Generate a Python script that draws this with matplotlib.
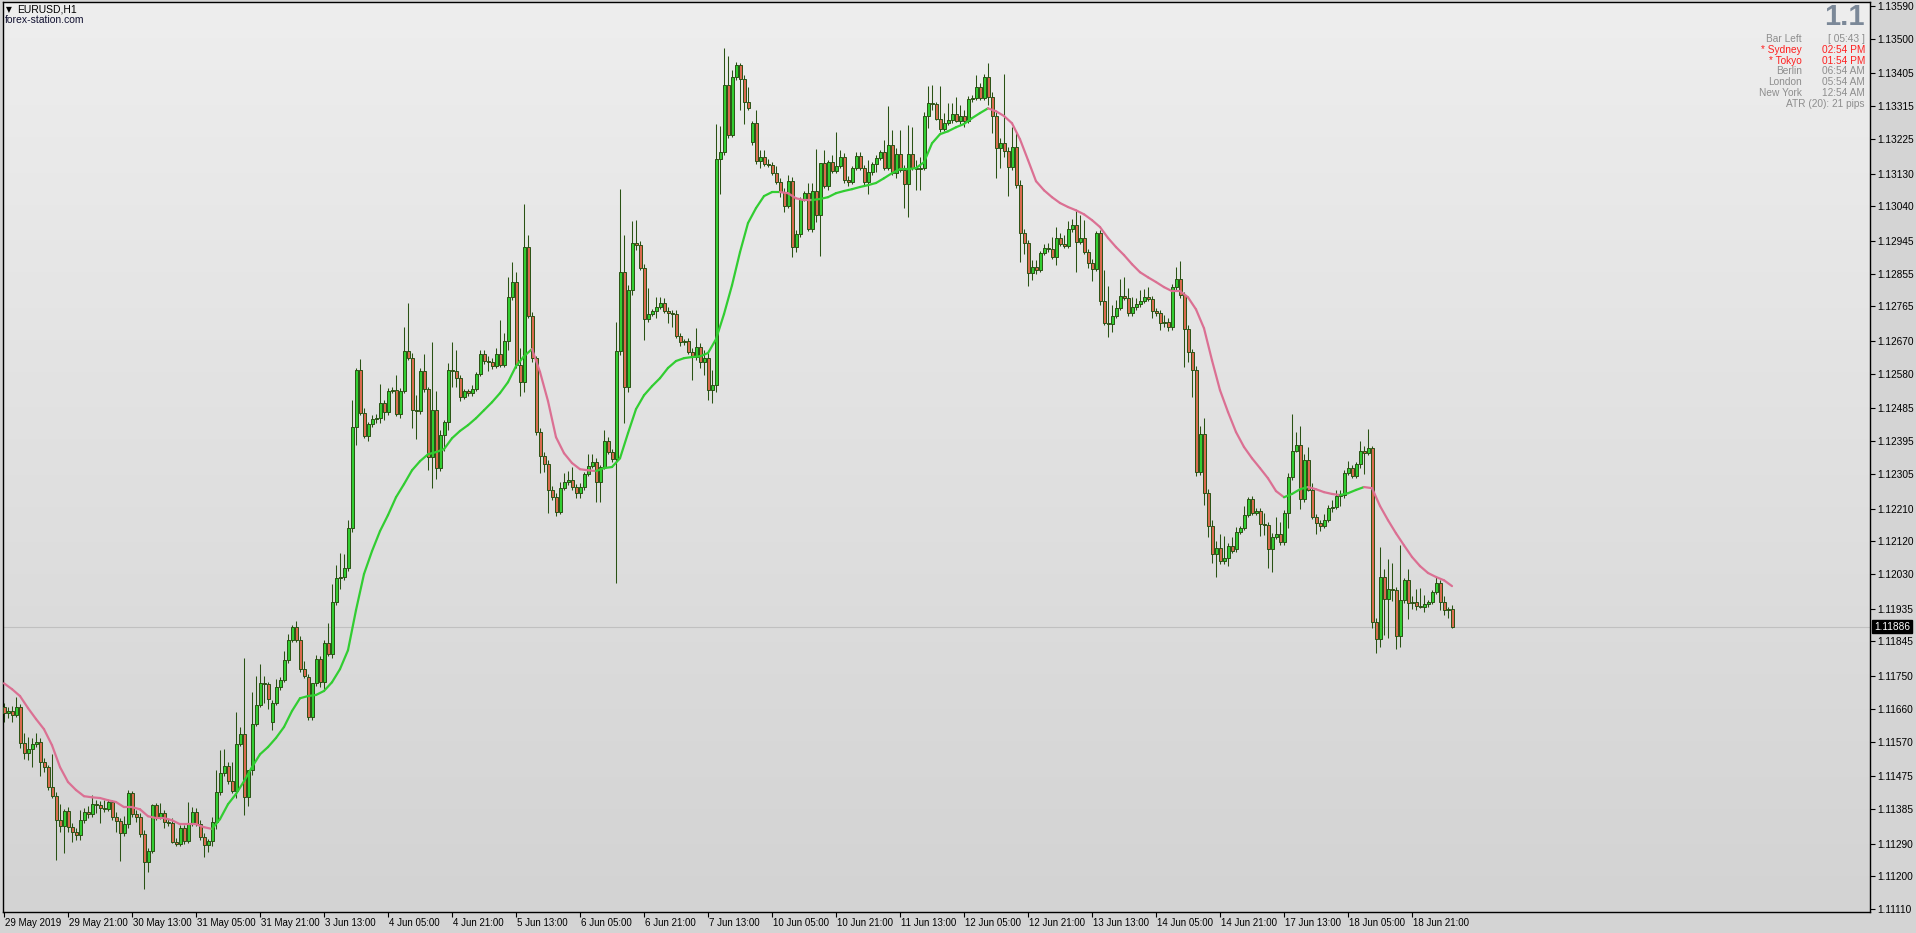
import numpy as np
import matplotlib
matplotlib.use('Agg')
import matplotlib.pyplot as plt
import matplotlib.transforms as mtransforms
from matplotlib.collections import LineCollection
from matplotlib.colors import LinearSegmentedColormap

# --- EURUSD H1 candles (29 May 2019 05:00 .. 19 Jun 2019) ---
opens = [
    1.11665, 1.11648, 1.11654, 1.11643, 1.11665, 1.11566, 1.11538, 1.11549, 1.11563, 1.11568,
    1.11513, 1.11500, 1.11445, 1.11420, 1.11354, 1.11338, 1.11379, 1.11335, 1.11321, 1.11313,
    1.11354, 1.11376, 1.11371, 1.11398, 1.11395, 1.11387, 1.11384, 1.11404, 1.11362, 1.11351,
    1.11319, 1.11343, 1.11428, 1.11371, 1.11362, 1.11316, 1.11239, 1.11269, 1.11395, 1.11360,
    1.11373, 1.11349, 1.11346, 1.11294, 1.11288, 1.11332, 1.11297, 1.11343, 1.11376, 1.11343,
    1.11308, 1.11286, 1.11297, 1.11349, 1.11431, 1.11483, 1.11503, 1.11461, 1.11434, 1.11563,
    1.11590, 1.11417, 1.11492, 1.11618, 1.11670, 1.11730, 1.11728, 1.11623, 1.11676, 1.11719,
    1.11739, 1.11794, 1.11849, 1.11884, 1.11849, 1.11769, 1.11747, 1.11637, 1.11730, 1.11796,
    1.11733, 1.11840, 1.11810, 1.11953, 1.12019, 1.12022, 1.12046, 1.12156, 1.12434, 1.12590,
    1.12472, 1.12409, 1.12442, 1.12455, 1.12458, 1.12499, 1.12475, 1.12532, 1.12535, 1.12469,
    1.12532, 1.12642, 1.12623, 1.12480, 1.12477, 1.12587, 1.12538, 1.12351, 1.12480, 1.12321,
    1.12412, 1.12447, 1.12590, 1.12587, 1.12568, 1.12516, 1.12532, 1.12527, 1.12538, 1.12579,
    1.12634, 1.12615, 1.12612, 1.12601, 1.12634, 1.12604, 1.12670, 1.12790, 1.12832, 1.12604,
    1.12557, 1.12928, 1.12738, 1.12623, 1.12420, 1.12354, 1.12332, 1.12261, 1.12241, 1.12200,
    1.12266, 1.12282, 1.12288, 1.12269, 1.12252, 1.12269, 1.12304, 1.12326, 1.12337, 1.12282,
    1.12324, 1.12395, 1.12365, 1.12346, 1.12642, 1.12859, 1.12543, 1.12810, 1.12939, 1.12933,
    1.12870, 1.12730, 1.12744, 1.12752, 1.12763, 1.12774, 1.12752, 1.12746, 1.12744, 1.12683,
    1.12667, 1.12670, 1.12639, 1.12626, 1.12653, 1.12612, 1.12623, 1.12535, 1.12549, 1.13169,
    1.13189, 1.13373, 1.13235, 1.13395, 1.13428, 1.13389, 1.13326, 1.13216, 1.13268, 1.13164,
    1.13175, 1.13156, 1.13153, 1.13131, 1.13106, 1.13079, 1.13040, 1.13109, 1.12928, 1.12963,
    1.13060, 1.13076, 1.12977, 1.13082, 1.13016, 1.13158, 1.13095, 1.13161, 1.13136, 1.13150,
    1.13175, 1.13112, 1.13106, 1.13145, 1.13178, 1.13145, 1.13106, 1.13134, 1.13156, 1.13172,
    1.13189, 1.13145, 1.13208, 1.13131, 1.13183, 1.13139, 1.13101, 1.13183, 1.13145, 1.13142,
    1.13145, 1.13288, 1.13323, 1.13320, 1.13279, 1.13252, 1.13268, 1.13277, 1.13293, 1.13274,
    1.13288, 1.13274, 1.13334, 1.13337, 1.13367, 1.13337, 1.13395, 1.13340, 1.13288, 1.13200,
    1.13213, 1.13191, 1.13147, 1.13202, 1.13098, 1.12966, 1.12939, 1.12856, 1.12873, 1.12865,
    1.12911, 1.12925, 1.12922, 1.12900, 1.12953, 1.12936, 1.12931, 1.12977, 1.12988, 1.12942,
    1.12953, 1.12914, 1.12884, 1.12867, 1.12966, 1.12780, 1.12719, 1.12716, 1.12738, 1.12760,
    1.12793, 1.12788, 1.12746, 1.12763, 1.12771, 1.12780, 1.12790, 1.12785, 1.12752, 1.12746,
    1.12719, 1.12722, 1.12708, 1.12818, 1.12840, 1.12796, 1.12703, 1.12639, 1.12590, 1.12310,
    1.12414, 1.12252, 1.12162, 1.12085, 1.12101, 1.12066, 1.12074, 1.12107, 1.12098, 1.12145,
    1.12156, 1.12192, 1.12236, 1.12197, 1.12203, 1.12167, 1.12164, 1.12098, 1.12131, 1.12140,
    1.12118, 1.12197, 1.12296, 1.12368, 1.12384, 1.12236, 1.12343, 1.12261, 1.12186, 1.12170,
    1.12162, 1.12178, 1.12211, 1.12214, 1.12244, 1.12247, 1.12307, 1.12321, 1.12299, 1.12332,
    1.12368, 1.12362, 1.12376, 1.11898, 1.11851, 1.12022, 1.11961, 1.11989, 1.11986, 1.11860,
    1.11958, 1.12013, 1.11950, 1.11953, 1.11942, 1.11939, 1.11947, 1.11953, 1.11980, 1.12005,
    1.11953, 1.11931, 1.11934]

highs = [
    1.11676, 1.11665, 1.11667, 1.11692, 1.11673, 1.11593, 1.11582, 1.11580, 1.11593, 1.11580,
    1.11524, 1.11505, 1.11535, 1.11431, 1.11398, 1.11384, 1.11390, 1.11346, 1.11332, 1.11382,
    1.11387, 1.11393, 1.11423, 1.11409, 1.11406, 1.11409, 1.11409, 1.11409, 1.11376, 1.11360,
    1.11365, 1.11437, 1.11434, 1.11382, 1.11373, 1.11327, 1.11277, 1.11398, 1.11401, 1.11401,
    1.11382, 1.11357, 1.11360, 1.11305, 1.11341, 1.11341, 1.11404, 1.11390, 1.11387, 1.11354,
    1.11319, 1.11302, 1.11362, 1.11492, 1.11547, 1.11549, 1.11513, 1.11513, 1.11651, 1.11610,
    1.11799, 1.11492, 1.11706, 1.11750, 1.11783, 1.11750, 1.11733, 1.11684, 1.11741, 1.11747,
    1.11818, 1.11865, 1.11890, 1.11901, 1.11860, 1.11791, 1.11755, 1.11730, 1.11807, 1.11805,
    1.11849, 1.11895, 1.12002, 1.12055, 1.12088, 1.12085, 1.12178, 1.12508, 1.12596, 1.12620,
    1.12486, 1.12447, 1.12466, 1.12469, 1.12552, 1.12508, 1.12541, 1.12543, 1.12576, 1.12541,
    1.12708, 1.12774, 1.12637, 1.12521, 1.12596, 1.12634, 1.12543, 1.12667, 1.12532, 1.12425,
    1.12453, 1.12609, 1.12667, 1.12645, 1.12576, 1.12538, 1.12538, 1.12549, 1.12585, 1.12645,
    1.12645, 1.12628, 1.12623, 1.12650, 1.12727, 1.12692, 1.12845, 1.12887, 1.12859, 1.12650,
    1.13046, 1.12961, 1.12749, 1.12628, 1.12431, 1.12365, 1.12343, 1.12271, 1.12252, 1.12282,
    1.12307, 1.12313, 1.12324, 1.12277, 1.12280, 1.12310, 1.12359, 1.12359, 1.12348, 1.12329,
    1.12425, 1.12406, 1.12373, 1.12722, 1.13087, 1.12961, 1.12823, 1.12999, 1.13002, 1.12944,
    1.12881, 1.12815, 1.12757, 1.12790, 1.12790, 1.12788, 1.12763, 1.12755, 1.12755, 1.12692,
    1.12675, 1.12678, 1.12650, 1.12705, 1.12664, 1.12645, 1.12639, 1.12590, 1.13266, 1.13260,
    1.13474, 1.13452, 1.13414, 1.13436, 1.13433, 1.13400, 1.13367, 1.13274, 1.13304, 1.13194,
    1.13194, 1.13169, 1.13161, 1.13150, 1.13117, 1.13090, 1.13125, 1.13120, 1.12974, 1.13065,
    1.13082, 1.13104, 1.13104, 1.13197, 1.13158, 1.13194, 1.13167, 1.13180, 1.13243, 1.13194,
    1.13186, 1.13123, 1.13150, 1.13189, 1.13189, 1.13153, 1.13167, 1.13161, 1.13180, 1.13194,
    1.13222, 1.13315, 1.13249, 1.13200, 1.13249, 1.13153, 1.13263, 1.13257, 1.13167, 1.13175,
    1.13298, 1.13370, 1.13373, 1.13326, 1.13370, 1.13296, 1.13323, 1.13323, 1.13340, 1.13318,
    1.13304, 1.13342, 1.13345, 1.13400, 1.13378, 1.13403, 1.13433, 1.13353, 1.13298, 1.13227,
    1.13403, 1.13202, 1.13257, 1.13244, 1.13112, 1.12977, 1.12947, 1.12892, 1.12892, 1.12917,
    1.12936, 1.12939, 1.12955, 1.12983, 1.12966, 1.12961, 1.12999, 1.13005, 1.13027, 1.13016,
    1.13002, 1.12922, 1.12895, 1.12972, 1.12974, 1.12865, 1.12821, 1.12769, 1.12782, 1.12840,
    1.12845, 1.12815, 1.12790, 1.12788, 1.12810, 1.12812, 1.12818, 1.12793, 1.12760, 1.12755,
    1.12741, 1.12733, 1.12826, 1.12873, 1.12889, 1.12804, 1.12714, 1.12648, 1.12601, 1.12436,
    1.12458, 1.12263, 1.12178, 1.12120, 1.12140, 1.12134, 1.12115, 1.12131, 1.12159, 1.12162,
    1.12217, 1.12241, 1.12244, 1.12211, 1.12211, 1.12197, 1.12173, 1.12142, 1.12186, 1.12173,
    1.12206, 1.12307, 1.12469, 1.12420, 1.12436, 1.12359, 1.12379, 1.12280, 1.12195, 1.12178,
    1.12195, 1.12219, 1.12233, 1.12261, 1.12261, 1.12315, 1.12340, 1.12329, 1.12337, 1.12395,
    1.12381, 1.12428, 1.12381, 1.11909, 1.12104, 1.12044, 1.12071, 1.12060, 1.11994, 1.12109,
    1.12019, 1.12044, 1.11969, 1.11989, 1.11991, 1.11972, 1.11958, 1.11986, 1.12022, 1.12013,
    1.11969, 1.11939, 1.11945]

lows = [
    1.11623, 1.11634, 1.11623, 1.11637, 1.11552, 1.11522, 1.11519, 1.11500, 1.11555, 1.11475,
    1.11486, 1.11437, 1.11415, 1.11244, 1.11321, 1.11264, 1.11321, 1.11294, 1.11299, 1.11299,
    1.11346, 1.11360, 1.11362, 1.11373, 1.11346, 1.11376, 1.11379, 1.11354, 1.11321, 1.11242,
    1.11310, 1.11332, 1.11362, 1.11349, 1.11308, 1.11165, 1.11212, 1.11264, 1.11354, 1.11357,
    1.11332, 1.11338, 1.11291, 1.11283, 1.11283, 1.11288, 1.11291, 1.11338, 1.11338, 1.11299,
    1.11253, 1.11266, 1.11283, 1.11330, 1.11423, 1.11475, 1.11453, 1.11428, 1.11415, 1.11558,
    1.11368, 1.11393, 1.11478, 1.11612, 1.11665, 1.11676, 1.11659, 1.11601, 1.11670, 1.11711,
    1.11733, 1.11785, 1.11843, 1.11843, 1.11761, 1.11744, 1.11629, 1.11629, 1.11722, 1.11719,
    1.11711, 1.11805, 1.11799, 1.11945, 1.11989, 1.12013, 1.12038, 1.12145, 1.12384, 1.12466,
    1.12403, 1.12395, 1.12434, 1.12444, 1.12444, 1.12453, 1.12466, 1.12527, 1.12464, 1.12458,
    1.12527, 1.12617, 1.12431, 1.12401, 1.12469, 1.12530, 1.12315, 1.12266, 1.12291, 1.12313,
    1.12368, 1.12425, 1.12543, 1.12543, 1.12505, 1.12510, 1.12519, 1.12519, 1.12532, 1.12574,
    1.12607, 1.12587, 1.12593, 1.12596, 1.12598, 1.12598, 1.12645, 1.12782, 1.12596, 1.12519,
    1.12530, 1.12733, 1.12612, 1.12412, 1.12307, 1.12310, 1.12197, 1.12233, 1.12189, 1.12195,
    1.12261, 1.12274, 1.12261, 1.12239, 1.12239, 1.12261, 1.12299, 1.12321, 1.12228, 1.12228,
    1.12318, 1.12359, 1.12337, 1.12005, 1.12631, 1.12444, 1.12530, 1.12796, 1.12920, 1.12865,
    1.12672, 1.12722, 1.12738, 1.12733, 1.12757, 1.12746, 1.12719, 1.12708, 1.12678, 1.12656,
    1.12659, 1.12634, 1.12563, 1.12617, 1.12596, 1.12576, 1.12508, 1.12499, 1.12530, 1.13073,
    1.13180, 1.13227, 1.13230, 1.13386, 1.13304, 1.13266, 1.13304, 1.13208, 1.13156, 1.13145,
    1.13150, 1.13147, 1.13125, 1.13101, 1.13065, 1.13024, 1.13035, 1.12900, 1.12914, 1.12955,
    1.13054, 1.12972, 1.12969, 1.12996, 1.12903, 1.13090, 1.13084, 1.13131, 1.13131, 1.13145,
    1.13104, 1.13095, 1.13101, 1.13139, 1.13139, 1.13098, 1.13073, 1.13125, 1.13134, 1.13167,
    1.13139, 1.13139, 1.13125, 1.13117, 1.13134, 1.13035, 1.13010, 1.13139, 1.13084, 1.13084,
    1.13139, 1.13255, 1.13304, 1.13277, 1.13244, 1.13246, 1.13263, 1.13268, 1.13271, 1.13266,
    1.13257, 1.13268, 1.13326, 1.13331, 1.13331, 1.13331, 1.13318, 1.13241, 1.13117, 1.13145,
    1.13175, 1.13068, 1.13139, 1.13090, 1.12887, 1.12909, 1.12821, 1.12837, 1.12854, 1.12859,
    1.12906, 1.12914, 1.12895, 1.12878, 1.12931, 1.12925, 1.12925, 1.12969, 1.12859, 1.12936,
    1.12909, 1.12870, 1.12834, 1.12862, 1.12769, 1.12714, 1.12681, 1.12694, 1.12733, 1.12755,
    1.12782, 1.12738, 1.12738, 1.12755, 1.12763, 1.12774, 1.12780, 1.12733, 1.12738, 1.12700,
    1.12708, 1.12697, 1.12700, 1.12810, 1.12788, 1.12598, 1.12612, 1.12516, 1.12299, 1.12302,
    1.12219, 1.12131, 1.12060, 1.12022, 1.12057, 1.12057, 1.12052, 1.12088, 1.12090, 1.12140,
    1.12151, 1.12186, 1.12192, 1.12192, 1.12134, 1.12137, 1.12046, 1.12035, 1.12126, 1.12109,
    1.12109, 1.12156, 1.12288, 1.12365, 1.12208, 1.12228, 1.12258, 1.12181, 1.12140, 1.12148,
    1.12156, 1.12173, 1.12200, 1.12208, 1.12217, 1.12239, 1.12302, 1.12293, 1.12293, 1.12321,
    1.12304, 1.12357, 1.11882, 1.11813, 1.11829, 1.11862, 1.11854, 1.11956, 1.11824, 1.11829,
    1.11950, 1.11906, 1.11934, 1.11931, 1.11936, 1.11925, 1.11939, 1.11947, 1.11975, 1.11931,
    1.11917, 1.11909, 1.11882]

closes = [
    1.11648, 1.11654, 1.11643, 1.11665, 1.11566, 1.11538, 1.11549, 1.11563, 1.11568, 1.11513,
    1.11500, 1.11445, 1.11420, 1.11354, 1.11338, 1.11379, 1.11335, 1.11321, 1.11313, 1.11354,
    1.11376, 1.11371, 1.11398, 1.11395, 1.11387, 1.11384, 1.11404, 1.11362, 1.11351, 1.11319,
    1.11343, 1.11428, 1.11371, 1.11362, 1.11316, 1.11239, 1.11269, 1.11395, 1.11360, 1.11373,
    1.11349, 1.11346, 1.11294, 1.11288, 1.11332, 1.11297, 1.11343, 1.11376, 1.11343, 1.11308,
    1.11286, 1.11297, 1.11349, 1.11431, 1.11483, 1.11503, 1.11461, 1.11434, 1.11563, 1.11590,
    1.11417, 1.11492, 1.11618, 1.11670, 1.11730, 1.11728, 1.11686, 1.11676, 1.11719, 1.11739,
    1.11794, 1.11849, 1.11884, 1.11849, 1.11769, 1.11750, 1.11637, 1.11730, 1.11796, 1.11733,
    1.11840, 1.11810, 1.11953, 1.12019, 1.12022, 1.12046, 1.12156, 1.12434, 1.12590, 1.12472,
    1.12409, 1.12442, 1.12455, 1.12458, 1.12499, 1.12475, 1.12532, 1.12535, 1.12469, 1.12532,
    1.12642, 1.12623, 1.12480, 1.12477, 1.12587, 1.12538, 1.12351, 1.12480, 1.12321, 1.12412,
    1.12447, 1.12590, 1.12587, 1.12568, 1.12516, 1.12532, 1.12527, 1.12538, 1.12579, 1.12634,
    1.12615, 1.12612, 1.12601, 1.12634, 1.12604, 1.12670, 1.12790, 1.12832, 1.12604, 1.12557,
    1.12928, 1.12738, 1.12623, 1.12420, 1.12354, 1.12332, 1.12261, 1.12241, 1.12200, 1.12266,
    1.12282, 1.12288, 1.12269, 1.12252, 1.12269, 1.12304, 1.12326, 1.12337, 1.12282, 1.12324,
    1.12395, 1.12365, 1.12346, 1.12642, 1.12859, 1.12543, 1.12810, 1.12939, 1.12933, 1.12870,
    1.12730, 1.12744, 1.12752, 1.12763, 1.12774, 1.12752, 1.12746, 1.12744, 1.12683, 1.12667,
    1.12670, 1.12639, 1.12626, 1.12653, 1.12612, 1.12623, 1.12535, 1.12549, 1.13169, 1.13189,
    1.13373, 1.13235, 1.13395, 1.13428, 1.13389, 1.13326, 1.13309, 1.13268, 1.13164, 1.13175,
    1.13156, 1.13153, 1.13131, 1.13106, 1.13079, 1.13040, 1.13109, 1.12928, 1.12963, 1.13060,
    1.13076, 1.12977, 1.13082, 1.13016, 1.13158, 1.13095, 1.13161, 1.13136, 1.13150, 1.13175,
    1.13112, 1.13106, 1.13145, 1.13178, 1.13145, 1.13106, 1.13134, 1.13156, 1.13172, 1.13189,
    1.13145, 1.13208, 1.13131, 1.13183, 1.13139, 1.13101, 1.13183, 1.13145, 1.13142, 1.13145,
    1.13288, 1.13323, 1.13320, 1.13279, 1.13252, 1.13268, 1.13277, 1.13293, 1.13274, 1.13288,
    1.13274, 1.13334, 1.13337, 1.13367, 1.13337, 1.13395, 1.13340, 1.13288, 1.13200, 1.13213,
    1.13191, 1.13147, 1.13202, 1.13098, 1.12966, 1.12939, 1.12856, 1.12873, 1.12865, 1.12911,
    1.12925, 1.12922, 1.12900, 1.12953, 1.12936, 1.12931, 1.12977, 1.12988, 1.12942, 1.12953,
    1.12914, 1.12884, 1.12867, 1.12966, 1.12780, 1.12719, 1.12716, 1.12738, 1.12760, 1.12793,
    1.12788, 1.12746, 1.12763, 1.12771, 1.12780, 1.12790, 1.12785, 1.12752, 1.12746, 1.12719,
    1.12722, 1.12708, 1.12818, 1.12840, 1.12796, 1.12703, 1.12639, 1.12590, 1.12310, 1.12414,
    1.12252, 1.12162, 1.12085, 1.12101, 1.12066, 1.12074, 1.12107, 1.12093, 1.12145, 1.12156,
    1.12192, 1.12236, 1.12197, 1.12203, 1.12167, 1.12164, 1.12098, 1.12131, 1.12140, 1.12118,
    1.12197, 1.12296, 1.12368, 1.12384, 1.12236, 1.12343, 1.12261, 1.12186, 1.12170, 1.12162,
    1.12178, 1.12211, 1.12214, 1.12244, 1.12247, 1.12307, 1.12321, 1.12299, 1.12332, 1.12368,
    1.12362, 1.12376, 1.11898, 1.11851, 1.12022, 1.11961, 1.11989, 1.11986, 1.11860, 1.11958,
    1.12013, 1.11950, 1.11953, 1.11942, 1.11939, 1.11947, 1.11953, 1.11980, 1.12005, 1.11953,
    1.11931, 1.11934, 1.11886]

# moving average, read every 2nd bar
ma_bars = list(range(0, 363, 2))
ma_values = [
    1.11730, 1.11714, 1.11695, 1.11662, 1.11632, 1.11604, 1.11560, 1.11500, 1.11459, 1.11437,
    1.11420, 1.11417, 1.11415, 1.11409, 1.11404, 1.11390, 1.11390, 1.11384, 1.11365, 1.11360,
    1.11360, 1.11354, 1.11343, 1.11343, 1.11343, 1.11335, 1.11330, 1.11357, 1.11398, 1.11426,
    1.11461, 1.11500, 1.11535, 1.11555, 1.11580, 1.11610, 1.11654, 1.11689, 1.11695, 1.11698,
    1.11709, 1.11733, 1.11769, 1.11821, 1.11931, 1.12030, 1.12093, 1.12148, 1.12192, 1.12241,
    1.12277, 1.12315, 1.12340, 1.12359, 1.12365, 1.12373, 1.12403, 1.12423, 1.12439, 1.12458,
    1.12480, 1.12502, 1.12527, 1.12557, 1.12601, 1.12628, 1.12648, 1.12585, 1.12505, 1.12406,
    1.12362, 1.12335, 1.12318, 1.12315, 1.12313, 1.12321, 1.12324, 1.12348, 1.12417, 1.12483,
    1.12521, 1.12546, 1.12568, 1.12596, 1.12615, 1.12623, 1.12626, 1.12628, 1.12637, 1.12675,
    1.12744, 1.12823, 1.12914, 1.12994, 1.13035, 1.13068, 1.13079, 1.13079, 1.13076, 1.13062,
    1.13057, 1.13057, 1.13060, 1.13065, 1.13076, 1.13082, 1.13087, 1.13093, 1.13098, 1.13104,
    1.13117, 1.13131, 1.13142, 1.13142, 1.13145, 1.13161, 1.13213, 1.13238, 1.13246, 1.13257,
    1.13266, 1.13282, 1.13296, 1.13309, 1.13301, 1.13288, 1.13268, 1.13224, 1.13167, 1.13109,
    1.13084, 1.13065, 1.13049, 1.13038, 1.13029, 1.13018, 1.13002, 1.12983, 1.12953, 1.12928,
    1.12906, 1.12881, 1.12859, 1.12845, 1.12832, 1.12818, 1.12807, 1.12807, 1.12790, 1.12757,
    1.12705, 1.12617, 1.12535, 1.12475, 1.12420, 1.12379, 1.12348, 1.12321, 1.12293, 1.12258,
    1.12241, 1.12250, 1.12263, 1.12269, 1.12263, 1.12255, 1.12250, 1.12247, 1.12252, 1.12261,
    1.12269, 1.12266, 1.12217, 1.12178, 1.12142, 1.12109, 1.12077, 1.12052, 1.12033, 1.12022,
    1.12013, 1.11997]

time_labels = ['29 May 2019', '29 May 21:00', '30 May 13:00', '31 May 05:00', '31 May 21:00',
               '3 Jun 13:00', '4 Jun 05:00', '4 Jun 21:00', '5 Jun 13:00', '6 Jun 05:00',
               '6 Jun 21:00', '7 Jun 13:00', '10 Jun 05:00', '10 Jun 21:00', '11 Jun 13:00',
               '12 Jun 05:00', '12 Jun 21:00', '13 Jun 13:00', '14 Jun 05:00', '14 Jun 21:00',
               '17 Jun 13:00', '18 Jun 05:00', '18 Jun 21:00']
bars_per_label = 16

price_labels = ['1.13590', '1.13500', '1.13405', '1.13315', '1.13225', '1.13130', '1.13040',
                '1.12945', '1.12855', '1.12765', '1.12670', '1.12580', '1.12485', '1.12395',
                '1.12305', '1.12210', '1.12120', '1.12030', '1.11935', '1.11845', '1.11750',
                '1.11660', '1.11570', '1.11475', '1.11385', '1.11290', '1.11200', '1.11110']
last_price = 1.11886

info_names = ['Bar Left', '* Sydney', '* Tokyo', 'Berlin', 'London', 'New York']
info_values = ['[ 05:43 ]', '02:54 PM', '01:54 PM', '06:54 AM', '05:54 AM', '12:54 AM']
info_open = [False, True, True, False, False, False]
atr_text = 'ATR (20): 21 pips'

# --- style ---
W, H = 1916, 933
bull_fill = '#32CD32'
bear_fill = '#D96A4E'
edge = '#2A5214'
ma_up = '#32CD32'
ma_down = '#DB7093'
info_gray = '#8E8E8E'

plt.rcParams['font.family'] = ['Liberation Sans', 'DejaVu Sans']

fig = plt.figure(figsize=(W / 100, H / 100), dpi=100, facecolor='#D4D4D4')
ax = fig.add_axes([3 / W, 21 / H, 1867 / W, 910 / H])

x_lo, x_hi = -0.25, -0.25 + 1867 / 4
y_lo, y_hi = 1.11102, 1.13601

# background gradient
bg = LinearSegmentedColormap.from_list('bg', ['#EEEEEE', '#D3D3D3'])
ax.imshow(np.linspace(0, 1, 256).reshape(-1, 1), cmap=bg, aspect='auto',
          extent=(x_lo, x_hi, y_lo, y_hi), origin='upper', zorder=0)

# current price line
ax.axhline(last_price, color='#C0C0C0', lw=0.8, zorder=1)

# candles
o = np.array(opens)
hi = np.array(highs)
lo = np.array(lows)
c = np.array(closes)
x = np.arange(len(o))
up = c >= o
ax.vlines(x, lo, hi, color=edge, lw=0.75, zorder=2)
ax.bar(x, np.abs(c - o), bottom=np.minimum(o, c), width=0.75,
       color=np.where(up, bull_fill, bear_fill), edgecolor=edge, linewidth=0.7, zorder=3)

# moving average, coloured by slope (flat steps keep the previous colour)
pts = np.column_stack([ma_bars, ma_values])
segs = np.stack([pts[:-1], pts[1:]], axis=1)
seg_cols = []
cur = ma_down
for a, b in zip(ma_values[:-1], ma_values[1:]):
    if b > a:
        cur = ma_up
    elif b < a:
        cur = ma_down
    seg_cols.append(cur)
ax.add_collection(LineCollection(segs, colors=seg_cols, linewidths=1.6,
                                 capstyle='round', zorder=4))

ax.set_xlim(x_lo, x_hi)
ax.set_ylim(y_lo, y_hi)

for sp in ax.spines.values():
    sp.set_color('black')
    sp.set_linewidth(1.0)

# price axis on the right
ax.yaxis.tick_right()
ax.set_yticks([float(p) for p in price_labels])
ax.set_yticklabels(price_labels)
ax.tick_params(axis='y', direction='out', length=3.5, width=0.8, pad=2,
               labelsize=7.3, colors='black')

# time axis
ax.set_xticks(np.arange(len(time_labels)) * bars_per_label)
ax.set_xticklabels([])
ax.tick_params(axis='x', direction='out', length=3.5, width=0.8)
tx = mtransforms.blended_transform_factory(ax.transData, ax.transAxes)
for k, lab in enumerate(time_labels):
    ax.text(k * bars_per_label + 0.3, -11 / 910, lab, transform=tx,
            ha='left', va='center', fontsize=7.0, color='black')

# last price tag
ty = mtransforms.blended_transform_factory(ax.transAxes, ax.transData)
ax.text(1.0 + 4 / 1867, last_price, f'{last_price:.5f}', transform=ty, ha='left',
        va='center', fontsize=7.3, color='white', clip_on=False, zorder=10,
        bbox=dict(boxstyle='square,pad=0.18', fc='black', ec='black'))

# top-left labels
def fx(px):
    return px / W

def fy(py):
    return 1 - py / H

fig.text(fx(6), fy(10), '\u25BC', fontsize=5.5, ha='left', va='center',
         family=['DejaVu Sans'], color='black', zorder=20)
fig.text(fx(17), fy(10), 'EURUSD,H1', fontsize=7.5, ha='left', va='center',
         color='black', zorder=20)
fig.text(fx(5), fy(20), 'forex-station.com', fontsize=7.5, ha='left', va='center',
         color='#101030', zorder=20)

# info panel, top right
fig.text(fx(1865), fy(17), '1.1', fontsize=21, fontweight='bold', ha='right',
         va='center', color='#7B8898', zorder=20)
row_y = [39, 50, 60.5, 71, 82, 93]
for name, val, is_open, yy in zip(info_names, info_values, info_open, row_y):
    col = '#FF2020' if is_open else info_gray
    fig.text(fx(1802), fy(yy), name, fontsize=7.3, ha='right', va='center', color=col, zorder=20)
    fig.text(fx(1865), fy(yy), val, fontsize=7.3, ha='right', va='center', color=col, zorder=20)
fig.text(fx(1865), fy(104), atr_text, fontsize=7.3, ha='right', va='center',
         color=info_gray, zorder=20)

fig.savefig('out.png', dpi=100, facecolor=fig.get_facecolor())
